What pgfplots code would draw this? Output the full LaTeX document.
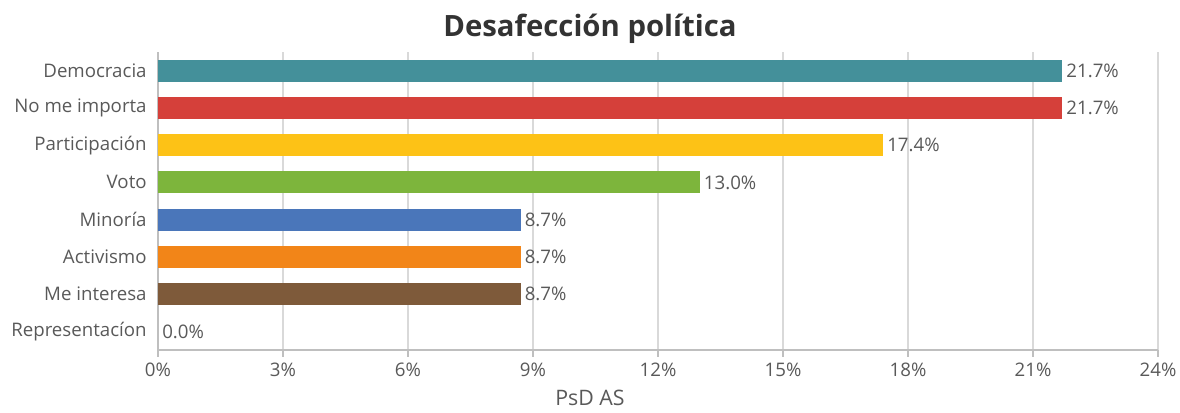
\documentclass[border=0pt]{standalone}
\usepackage{fontspec}
\setmainfont{Open Sans}
\usepackage{pgfplots}
\pgfplotsset{compat=1.18}
\definecolor{txt}{HTML}{595959}
\definecolor{gridc}{HTML}{D9D9D9}
\definecolor{axc}{HTML}{BFBFBF}
\definecolor{c1}{HTML}{44909A}
\definecolor{c2}{HTML}{D5403A}
\definecolor{c3}{HTML}{FDC216}
\definecolor{c4}{HTML}{7DB53C}
\definecolor{c5}{HTML}{4A76BA}
\definecolor{c6}{HTML}{F28518}
\definecolor{c7}{HTML}{7E5A3A}
\begin{document}
\begin{tikzpicture}[x=0.75pt,y=0.75pt]
\begin{axis}[
  name=ax,
  scale only axis,
  width=750pt, height=223.5pt,
  xbar, bar width=16.5pt, bar shift=0pt,
  xmin=0, xmax=24,
  ymin=-0.5, ymax=7.5,
  xtick={0,3,...,24},
  xticklabel={\pgfmathprintnumber{\tick}\%},
  /pgf/number format/assume math mode=true,
  ytick={0,...,7},
  yticklabels={Representacíon,Me interesa,Activismo,Minoría,Voto,Participación,No me importa,Democracia},
  xmajorgrids, grid style={gridc, line width=0.8pt},
  axis line style={axc, line width=0.8pt},
  axis x line*=bottom, axis y line*=left,
  x tick style={axc, line width=0.8pt}, major tick length=5pt,
  xtick pos=bottom, tick align=outside,
  y tick style={draw=none},
  ticklabel style={font=\fontsize{14pt}{16pt}\selectfont, text=txt},
  xticklabel style={yshift=-1pt},
  xlabel={PsD AS},
  xlabel style={font=\fontsize{16pt}{18pt}\selectfont, text=txt, yshift=-3pt, xshift=-51pt},
  title={Desafección política},
  title style={font=\bfseries\fontsize{22pt}{24pt}\selectfont, text=black!80, yshift=-3pt, xshift=-51pt},
  nodes near coords={\pgfmathprintnumber[fixed,fixed zerofill,precision=1]{\pgfplotspointmeta}\%},
  nodes near coords style={font=\fontsize{14pt}{16pt}\selectfont, text=txt, inner sep=3pt},
  every axis plot/.append style={draw=none},
  clip=false,
]
\addplot[fill=c1] coordinates {(21.7,7)};
\addplot[fill=c2] coordinates {(21.7,6)};
\addplot[fill=c3] coordinates {(17.4,5)};
\addplot[fill=c4] coordinates {(13.0,4)};
\addplot[fill=c5] coordinates {(8.7,3)};
\addplot[fill=c6] coordinates {(8.7,2)};
\addplot[fill=c7] coordinates {(8.7,1)};
\addplot[fill=none] coordinates {(0.0,0)};
\end{axis}
\pgfresetboundingbox
\path (ax.south west) ++(-158pt*0.75,-63pt*0.75) coordinate (bl);
\path (ax.north east) ++(22pt*0.75,52pt*0.75) coordinate (tr);
\path[use as bounding box] (bl) rectangle (tr);
\end{tikzpicture}
\end{document}
